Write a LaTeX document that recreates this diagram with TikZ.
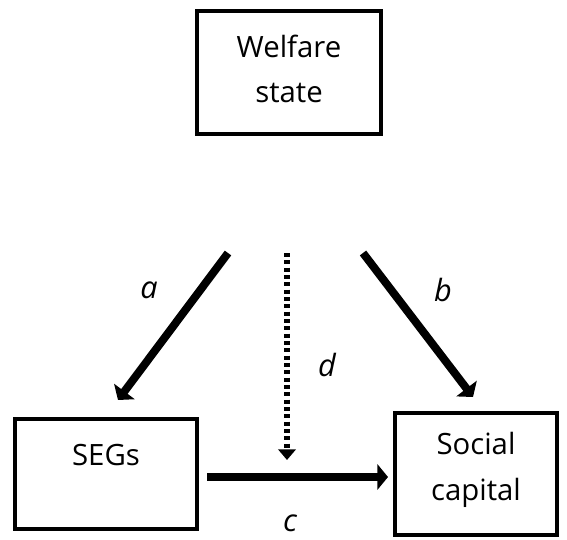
\documentclass[tikz,border=0pt]{standalone}
\usepackage{fontspec}
\setmainfont{Open Sans}
\usetikzlibrary{arrows.meta}
\begin{document}
\begin{tikzpicture}[x=0.75pt,y=-0.75pt,
  box/.style={draw,line width=3pt,minimum width=0pt},
  txt/.style={font=\fontsize{22}{34}\selectfont,align=center,inner sep=0pt},
  lab/.style={font=\fontsize{23}{28}\selectfont\itshape,inner sep=0pt},
  bigarrow/.style={line width=6pt,-{Triangle[length=8pt,width=19pt]}},
  dotarrow/.style={line width=4.2pt,dash pattern=on 3pt off 2.5pt,-{Triangle[length=8pt,width=13pt]}}]
\useasboundingbox (0,0) rectangle (567,539);
\draw[box] (197,11) rectangle (381,134);
\draw[box] (15,419) rectangle (197,529);
\draw[box] (395,413) rectangle (557,535);
\node[txt] (w) at (289,69) {Welfare\\state};
\node[txt] (s) at (106,455) {SEGs};
\node[txt] (sc) at (476,470) {Social\\capital};
\coordinate (aS) at (228,253);
\coordinate (aE) at (118,400);
\coordinate (bS) at (363,253);
\coordinate (bE) at (473,397);
\coordinate (dS) at (287,253);
\coordinate (dE) at (287,460);
\coordinate (cS) at (207,477);
\coordinate (cE) at (388,477);
\draw[bigarrow] (aS) -- (aE);
\draw[bigarrow] (bS) -- (bE);
\draw[bigarrow] (cS) -- (cE);
\draw[dotarrow] (dS) -- (dE);
\node[lab] (la) at (149,290) {a};
\node[lab] (lb) at (443,290) {b};
\node[lab] (ld) at (327,365) {d};
\node[lab] (lc) at (290,523) {c};
\end{tikzpicture}
\end{document}
